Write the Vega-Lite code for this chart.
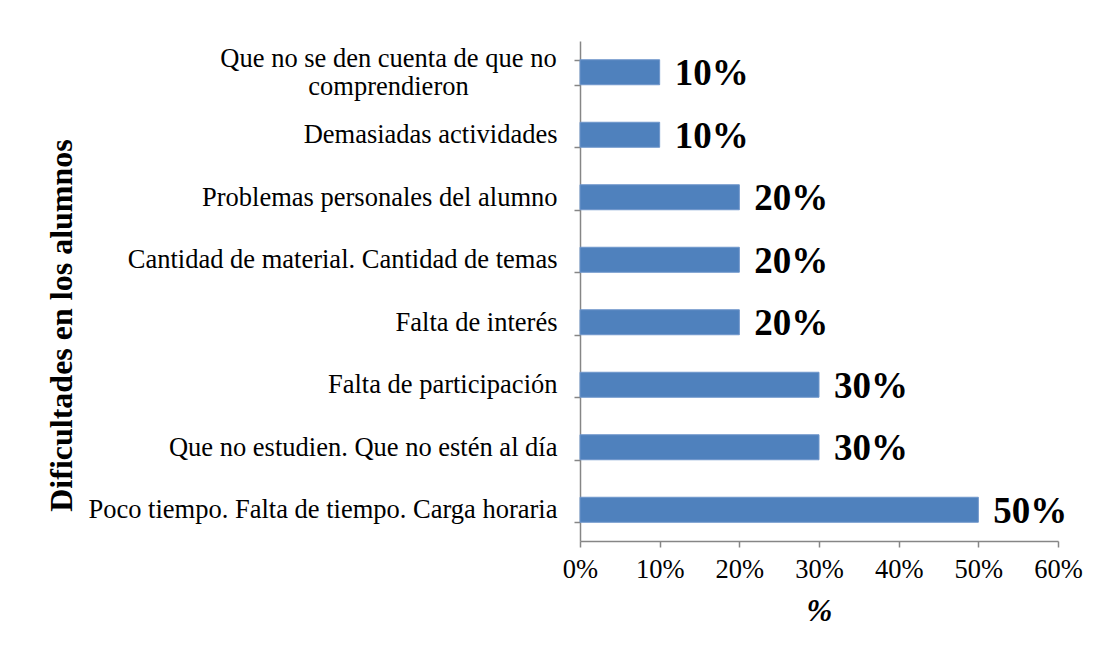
{
  "$schema": "https://vega.github.io/schema/vega-lite/v6.json",
  "width": 478,
  "height": 500,
  "autosize": {"type": "none"},
  "padding": {"left": 580, "top": 41, "right": 40, "bottom": 117},
  "background": "white",
  "config": {
    "font": "Liberation Serif",
    "view": {"stroke": null}
  },
  "data": {
    "values": [
      {"cat": "Que no se den cuenta de que no comprendieron", "v": 0.10, "lab": "10%"},
      {"cat": "Demasiadas actividades", "v": 0.10, "lab": "10%"},
      {"cat": "Problemas personales del alumno", "v": 0.20, "lab": "20%"},
      {"cat": "Cantidad de material. Cantidad de temas", "v": 0.20, "lab": "20%"},
      {"cat": "Falta de interés", "v": 0.20, "lab": "20%"},
      {"cat": "Falta de participación", "v": 0.30, "lab": "30%"},
      {"cat": "Que no estudien. Que no estén al día", "v": 0.30, "lab": "30%"},
      {"cat": "Poco tiempo. Falta de tiempo. Carga horaria", "v": 0.50, "lab": "50%"}
    ]
  },
  "encoding": {
    "y": {
      "field": "cat",
      "type": "nominal",
      "sort": null,
      "scale": {"paddingInner": 0.6, "paddingOuter": 0.3},
      "axis": {
        "title": "Dificultades en los alumnos",
        "titleFont": "Liberation Serif",
        "titleFontSize": 32,
        "titleFontWeight": "bold",
        "titleColor": "black",
        "titleAngle": -90,
        "titleX": -519,
        "titleY": 284,
        "titleAlign": "center",
        "titleBaseline": "middle",
        "labelFont": "Liberation Serif",
        "labelFontSize": 26.5,
        "labelColor": "black",
        "labelLimit": 700,
        "labelLineHeight": 28,
        "labelExpr": "datum.value == 'Que no se den cuenta de que no comprendieron' ? ['Que no se den cuenta de que no', 'comprendieron'] : datum.value",
        "labelAlign": {"condition": {"test": "datum.value == 'Que no se den cuenta de que no comprendieron'", "value": "center"}, "value": "right"},
        "labelPadding": {"condition": {"test": "datum.value == 'Que no se den cuenta de que no comprendieron'", "value": 186}, "value": 17},
        "labelOffset": {"condition": {"test": "datum.value == 'Que no se den cuenta de que no comprendieron'", "value": -14}, "value": 0},
        "tickBand": "extent",
        "tickSize": 6,
        "tickColor": "#868686",
        "domainColor": "#868686",
        "domainWidth": 1.5,
        "tickWidth": 1.5,
        "grid": false
      }
    },
    "x": {
      "field": "v",
      "type": "quantitative",
      "scale": {"domain": [0, 0.6], "nice": false},
      "axis": {
        "title": "%",
        "titleFont": "Liberation Serif",
        "titleFontSize": 31,
        "titleFontWeight": "bold",
        "titleFontStyle": "italic",
        "titleColor": "black",
        "titlePadding": 14,
        "format": ".0%",
        "values": [0, 0.1, 0.2, 0.3, 0.4, 0.5, 0.6],
        "labelFont": "Liberation Serif",
        "labelFontSize": 26.5,
        "labelColor": "black",
        "labelPadding": 9,
        "labelFlush": false,
        "tickSize": 6,
        "tickColor": "#868686",
        "domainColor": "#868686",
        "domainWidth": 1.5,
        "tickWidth": 1.5,
        "grid": false
      }
    }
  },
  "layer": [
    {"mark": {"type": "bar", "color": "#4F81BD", "stroke": "#6F96CB", "strokeWidth": 1}},
    {
      "mark": {"type": "text", "align": "left", "baseline": "middle", "dx": 15, "dy": 2, "fontSize": 37, "fontWeight": "bold", "font": "Liberation Serif", "color": "black"},
      "encoding": {"text": {"field": "lab"}}
    }
  ]
}
